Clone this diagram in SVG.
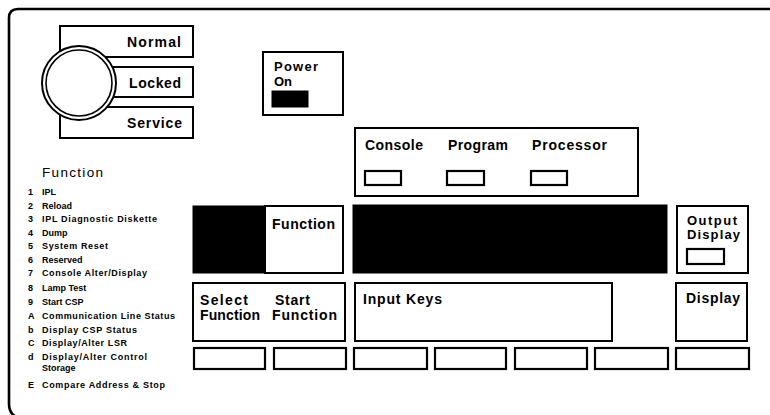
<svg xmlns="http://www.w3.org/2000/svg" width="770" height="415" viewBox="0 0 770 415">
<style>
.bx{fill:#fff;stroke:#000;stroke-width:2}
.lamp{fill:#fff;stroke:#000;stroke-width:2.2}
.blk{fill:#000;stroke:#000;stroke-width:1}
.lb{font-family:"Liberation Sans",Arial,sans-serif;font-weight:bold;font-size:14px;fill:#000}
.l2{font-family:"Liberation Sans",Arial,sans-serif;font-weight:bold;font-size:13px;fill:#000}
.ls{font-family:"Liberation Sans",Arial,sans-serif;font-weight:bold;font-size:9px;fill:#000}
.hd{font-family:"Liberation Sans",Arial,sans-serif;font-size:13.5px;fill:#000}
</style>
<rect width="770" height="415" fill="#fff"/>
<g id="frame">
<path d="M770 9 H18 Q9 9 9 18 V404 Q9 413 16 417" fill="none" stroke="#000" stroke-width="2.6"/>
</g>
<g id="keyswitch">
<rect class="bx" x="60" y="26" width="133" height="31"/>
<rect class="bx" x="60" y="67" width="133" height="30"/>
<rect class="bx" x="60" y="107" width="133" height="31"/>
<circle cx="79" cy="83" r="37" fill="#fff" stroke="#000" stroke-width="2"/>
<circle cx="79" cy="83" r="33" fill="#fff" stroke="#000" stroke-width="1.6"/>
<text class="lb" x="181" y="47" text-anchor="end" textLength="54">Normal</text>
<text class="lb" x="181" y="88" text-anchor="end" textLength="52">Locked</text>
<text class="lb" x="182" y="128" text-anchor="end" textLength="55">Service</text>
</g>
<g id="power">
<rect class="bx" x="263" y="52" width="80" height="63"/>
<text class="l2" x="274" y="71" textLength="44">Power</text>
<text class="l2" x="274" y="86">On</text>
<rect class="blk" x="272" y="91" width="36" height="16"/>
</g>
<g id="modes">
<rect class="bx" x="355" y="128" width="283" height="68"/>
<text class="lb" x="365" y="150" textLength="58">Console</text>
<text class="lb" x="448" y="150" textLength="60">Program</text>
<text class="lb" x="532" y="150" textLength="75">Processor</text>
<rect class="lamp" x="365" y="171" width="36" height="14"/>
<rect class="lamp" x="447" y="171" width="37" height="14"/>
<rect class="lamp" x="531" y="171" width="36" height="14"/>
</g>
<g id="function-list">
<text class="hd" x="42" y="177" textLength="61">Function</text>
<g class="ls">
<text x="28" y="195">1</text><text x="42" y="195">IPL</text>
<text x="28" y="208.5">2</text><text x="42" y="208.5">Reload</text>
<text x="28" y="222">3</text><text x="42" y="222" textLength="115">IPL Diagnostic Diskette</text>
<text x="28" y="235.5">4</text><text x="42" y="235.5">Dump</text>
<text x="28" y="249">5</text><text x="42" y="249" textLength="66">System Reset</text>
<text x="28" y="262.5">6</text><text x="42" y="262.5">Reserved</text>
<text x="28" y="276">7</text><text x="42" y="276" textLength="105">Console Alter/Display</text>
<text x="28" y="291">8</text><text x="42" y="291">Lamp Test</text>
<text x="28" y="305">9</text><text x="42" y="305">Start CSP</text>
<text x="28" y="319">A</text><text x="42" y="319" textLength="133">Communication Line Status</text>
<text x="28" y="332.5">b</text><text x="42" y="332.5" textLength="95">Display CSP Status</text>
<text x="28" y="346">C</text><text x="42" y="346" textLength="85">Display/Alter LSR</text>
<text x="28" y="360">d</text><text x="42" y="360" textLength="105">Display/Alter Control</text>
<text x="42" y="371">Storage</text>
<text x="28" y="388">E</text><text x="42" y="388" textLength="123">Compare Address &amp; Stop</text>
</g>
</g>
<g id="function-display">
<rect class="blk" x="193" y="206" width="72" height="67"/>
<rect class="bx" x="265" y="206" width="78" height="67"/>
<text class="lb" x="272" y="229" textLength="63">Function</text>
</g>
<g id="data-display">
<rect class="blk" x="353" y="205" width="314" height="68"/>
</g>
<g id="output-display">
<rect class="bx" x="677" y="206" width="71" height="67"/>
<text class="l2" x="687" y="225" textLength="50">Output</text>
<text class="l2" x="687" y="239" textLength="53">Display</text>
<rect class="lamp" x="687" y="249" width="37" height="15"/>
</g>
<g id="select-start">
<rect class="bx" x="193" y="283" width="152" height="58"/>
<text class="lb" x="200" y="305" textLength="48">Select</text>
<text class="lb" x="200" y="320" textLength="60">Function</text>
<text class="lb" x="275" y="305" textLength="35">Start</text>
<text class="lb" x="272" y="320" textLength="65">Function</text>
</g>
<g id="input-keys">
<rect class="bx" x="355" y="283" width="257" height="58"/>
<text class="lb" x="363" y="304" textLength="79">Input Keys</text>
</g>
<g id="display-key">
<rect class="bx" x="676" y="283" width="71" height="58"/>
<text class="lb" x="686" y="303" textLength="54">Display</text>
</g>
<g id="buttons">
<rect class="lamp" x="194" y="348" width="71" height="21"/>
<rect class="lamp" x="274" y="348" width="72" height="21"/>
<rect class="lamp" x="354" y="348" width="73" height="21"/>
<rect class="lamp" x="435" y="348" width="71" height="21"/>
<rect class="lamp" x="515" y="348" width="72" height="21"/>
<rect class="lamp" x="595" y="348" width="73" height="21"/>
<rect class="lamp" x="676" y="348" width="73" height="21"/>
</g>
</svg>
